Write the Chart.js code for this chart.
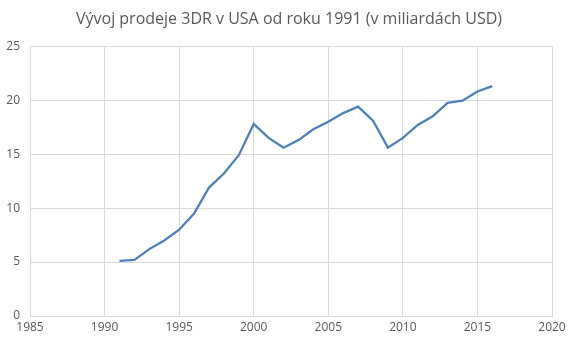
<!DOCTYPE html>
<html>
<head>
<meta charset="utf-8">
<script src="https://cdn.jsdelivr.net/npm/chart.js@4"></script>
<style>
  html, body { margin: 0; padding: 0; background: #fff; }
  #wrap { width: 578px; height: 344px; }
</style>
</head>
<body>
<div id="wrap"><canvas class="js-chart" width="578" height="344"></canvas></div>
<script>
const TITLE = 'Vývoj prodeje 3DR v USA od roku 1991 (v miliardách USD)';
const years = [1991, 1992, 1993, 1994, 1995, 1996, 1997, 1998, 1999, 2000,
  2001, 2002, 2003, 2004, 2005, 2006, 2007, 2008, 2009, 2010,
  2011, 2012, 2013, 2014, 2015, 2016];
const sales = [5.1, 5.2, 6.2, 7.0, 8.0, 9.5, 11.9, 13.2, 14.9, 17.8,
  16.5, 15.6, 16.3, 17.3, 18.0, 18.8, 19.4, 18.1, 15.6, 16.5,
  17.7, 18.5, 19.75, 19.95, 20.8, 21.3];
const xTicks = [1985, 1990, 1995, 2000, 2005, 2010, 2015, 2020];
const yTicks = [0, 5, 10, 15, 20, 25];

const context = document.querySelector('.js-chart').getContext('2d');
const FONT = "'Open Sans', 'Liberation Sans', sans-serif";
const GRID = '#d9d9d9';
const TEXT = '#595959';

new Chart(context, {
  type: 'scatter',
  data: {
    datasets: [
      {
        data: years.map((y, i) => ({ x: y, y: sales[i] })),
        showLine: true,
        borderColor: '#4f7fb9',
        borderWidth: 2.25,
        pointRadius: 0,
        tension: 0,
      },
    ],
  },
  options: {
    responsive: false,
    animation: false,
    layout: { padding: { left: 0, right: 0, top: 10, bottom: 0 } },
    plugins: {
      legend: { display: false },
      tooltip: { enabled: false },
      title: {
        display: true,
        text: TITLE,
        color: TEXT,
        font: { family: FONT, size: 16, weight: 'normal' },
        padding: { top: 0, bottom: 17 },
      },
    },
    scales: {
      x: {
        type: 'linear',
        min: xTicks[0],
        max: xTicks[xTicks.length - 1],
        afterBuildTicks(axis) {
          axis.ticks = xTicks.map(v => ({ value: v }));
        },
        afterFit(axis) {
          axis.height = 28;
          axis.paddingRight = 26;
        },
        grid: { color: GRID, drawTicks: false },
        border: { color: GRID },
        ticks: {
          color: TEXT,
          font: { family: FONT, size: 12 },
          padding: 4,
          maxRotation: 0,
          callback(value) {
            return String(value);
          },
        },
      },
      y: {
        min: yTicks[0],
        max: yTicks[yTicks.length - 1],
        afterBuildTicks(axis) {
          axis.ticks = yTicks.map(v => ({ value: v }));
        },
        afterFit(axis) {
          axis.width = 30;
        },
        grid: { color: GRID, drawTicks: false },
        border: { display: false },
        ticks: {
          color: TEXT,
          font: { family: FONT, size: 12 },
          padding: 10,
        },
      },
    },
  },
});
</script>
</body>
</html>
